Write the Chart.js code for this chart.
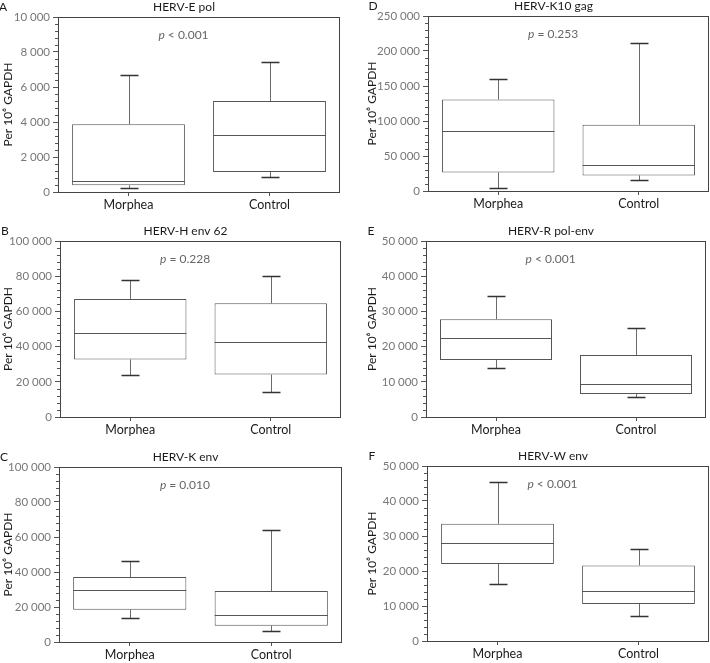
<!DOCTYPE html>
<html>
<head>
<meta charset="utf-8">
<script src="https://cdn.jsdelivr.net/npm/chart.js@4.4.1/dist/chart.umd.min.js"></script>
<style>
  body { margin: 0; background: #fff; width: 710px; height: 663px; overflow: hidden; position: relative; }
  canvas { position: absolute; }
</style>
</head>
<body>
<script>
const categories = ['Morphea', 'Control'];
const panelLetters = ['A', 'B', 'C', 'D', 'E', 'F'];
const panelTitles = ['HERV-E pol', 'HERV-H env 62', 'HERV-K env', 'HERV-K10 gag', 'HERV-R pol-env', 'HERV-W env'];
const pTexts = ['p < 0.001', 'p = 0.228', 'p = 0.010', 'p = 0.253', 'p < 0.001', 'p < 0.001'];
const yMax = [10000, 100000, 100000, 250000, 50000, 50000];
const yMajorStep = [2000, 20000, 20000, 50000, 10000, 10000];
const yMinorStep = [400, 4000, 4000, 10000, 2000, 2000];

// box plot values per panel, [Morphea, Control]
const whiskerLow = [[230, 840], [23800, 14100], [13700, 6100], [3800, 15200], [14000, 5700], [16200, 7200]];
const quartile1 = [[380, 1140], [32700, 24100], [18500, 9300], [26600, 22300], [16200, 6500], [22000, 10600]];
const medians = [[610, 3260], [47500, 42600], [29900, 15600], [86000, 37500], [22500, 9400], [28000, 14200]];
const quartile3 = [[3870, 5200], [67100, 64600], [37100, 29100], [130700, 94600], [27800, 17600], [33500, 21600]];
const whiskerHigh = [[6700, 7410], [77800, 80000], [46100, 64200], [159700, 212000], [34300, 25300], [45400, 26300]];

// layout: canvas frames [x, y, w, h] and plot areas [left, top, right, bottom] in page pixels
const frames = [[0, 0, 355, 222], [0, 222, 355, 225], [0, 447, 355, 216],
                [364, 0, 346, 222], [364, 222, 346, 225], [364, 447, 346, 216]];
const plotBoxes = [[58, 17, 340, 192], [60, 241, 341, 417], [59, 467, 342, 642],
                   [428, 16, 709, 191], [426, 241, 706, 417], [427, 466, 709, 641]];
const xAxisHeight = 22;

Chart.defaults.font.family = 'Lato, "Open Sans", sans-serif';

function fmt(v) {
  return String(v).replace(/\B(?=(\d{3})+(?!\d))/g, ' ');
}

const boxExtras = {
  id: 'boxExtras',
  beforeDatasetsDraw(chart, args, opts) {
    const i = opts.index, y = chart.scales.y, ctx = chart.ctx;
    ctx.save();
    ctx.lineWidth = 1;
    chart.getDatasetMeta(0).data.forEach((bar, j) => {
      const x = Math.round(bar.x) + 0.5;
      const half = Math.round(bar.width * 0.08);
      const lo = Math.round(y.getPixelForValue(whiskerLow[i][j])) + 0.5;
      const hi = Math.round(y.getPixelForValue(whiskerHigh[i][j])) + 0.5;
      const b1 = y.getPixelForValue(quartile1[i][j]);
      const b3 = y.getPixelForValue(quartile3[i][j]);
      ctx.strokeStyle = '#6a6a6a';
      ctx.beginPath();
      ctx.moveTo(x, b3); ctx.lineTo(x, hi);
      ctx.moveTo(x, b1); ctx.lineTo(x, lo);
      ctx.stroke();
      ctx.strokeStyle = '#333';
      ctx.lineWidth = 1.3;
      ctx.beginPath();
      ctx.moveTo(x - half, hi); ctx.lineTo(x + half, hi);
      ctx.moveTo(x - half, lo); ctx.lineTo(x + half, lo);
      ctx.stroke();
      ctx.lineWidth = 1;
    });
    ctx.restore();
  },
  afterDatasetsDraw(chart, args, opts) {
    const i = opts.index, y = chart.scales.y, ctx = chart.ctx;
    const a = chart.chartArea;
    ctx.save();
    ctx.lineWidth = 1;
    ctx.strokeStyle = '#555';
    chart.getDatasetMeta(0).data.forEach((bar, j) => {
      const m = Math.round(y.getPixelForValue(medians[i][j])) + 0.5;
      ctx.beginPath();
      ctx.moveTo(bar.x - bar.width / 2, m);
      ctx.lineTo(bar.x + bar.width / 2, m);
      ctx.stroke();
    });
    // frame round the plot area
    ctx.strokeStyle = '#444';
    ctx.strokeRect(Math.round(a.left) + 0.5, Math.round(a.top) + 0.5,
                   Math.round(a.right - a.left) - 1, Math.round(a.bottom - a.top));
    // minor ticks
    ctx.strokeStyle = '#555';
    ctx.beginPath();
    for (let v = 0; v <= yMax[i]; v += yMinorStep[i]) {
      if (v % yMajorStep[i] === 0) continue;
      const py = Math.round(y.getPixelForValue(v)) + 0.5;
      ctx.moveTo(a.left - 3, py); ctx.lineTo(a.left, py);
    }
    ctx.stroke();

    // title, panel letter, p value
    const cx = (a.left + a.right) / 2 - 15;
    ctx.fillStyle = '#1a1a1a';
    ctx.textBaseline = 'middle';
    ctx.textAlign = 'center';
    ctx.font = '12px Lato, "Open Sans", sans-serif';
    ctx.fillText(panelTitles[i], cx, a.top - 10);
    ctx.fillText(panelLetters[i], a.left - 55, a.top - 10);

    const p = pTexts[i];
    const rest = p.slice(1);
    ctx.fillStyle = '#666';
    ctx.font = 'italic 12px Lato, "Open Sans", sans-serif';
    const wp = ctx.measureText('p').width;
    ctx.font = '12px Lato, "Open Sans", sans-serif';
    const wr = ctx.measureText(rest).width;
    const px = a.left + 0.445 * (a.right - a.left) - (wp + wr) / 2;
    const py = a.top + 18;
    ctx.textAlign = 'left';
    ctx.font = 'italic 12px Lato, "Open Sans", sans-serif';
    ctx.fillText('p', px, py);
    ctx.font = '12px Lato, "Open Sans", sans-serif';
    ctx.fillText(rest, px + wp, py);
    ctx.restore();
  }
};

panelTitles.forEach((title, i) => {
  const [fx, fy, fw, fh] = frames[i];
  const [L, T, R, B] = plotBoxes[i];
  const canvas = document.createElement('canvas');
  canvas.width = fw;
  canvas.height = fh;
  canvas.style.left = fx + 'px';
  canvas.style.top = fy + 'px';
  canvas.style.width = fw + 'px';
  canvas.style.height = fh + 'px';
  document.body.appendChild(canvas);

  new Chart(canvas, {
    type: 'bar',
    data: {
      labels: categories,
      datasets: [{
        data: categories.map((c, j) => [quartile1[i][j], quartile3[i][j]]),
        backgroundColor: '#fff',
        borderColor: '#555',
        borderWidth: 1,
        borderSkipped: false,
        barPercentage: 0.8,
        categoryPercentage: 1
      }]
    },
    options: {
      responsive: false,
      animation: false,
      layout: { padding: { left: 0, top: T - fy, right: fx + fw - R, bottom: fy + fh - B - xAxisHeight } },
      plugins: {
        legend: { display: false },
        tooltip: { enabled: false },
        boxExtras: { index: i }
      },
      scales: {
        x: {
          grid: { drawOnChartArea: false, offset: false, tickLength: 4, color: '#555' },
          border: { display: false },
          ticks: { color: '#1a1a1a', padding: 1, maxRotation: 0, font: { size: 12.5 } },
          afterFit: s => { s.height = xAxisHeight; }
        },
        y: {
          min: 0,
          max: yMax[i],
          ticks: { stepSize: yMajorStep[i], color: '#777', padding: 3, font: { size: 11.5 }, callback: v => fmt(v) },
          grid: { drawOnChartArea: false, tickLength: 5, color: '#555' },
          border: { display: false },
          title: { display: true, text: 'Per 10⁶ GAPDH', color: '#1a1a1a', font: { size: 12 }, padding: { top: 1, bottom: 0 } },
          afterFit: s => { s.width = L - fx; }
        }
      }
    },
    plugins: [boxExtras]
  });
});
</script>
</body>
</html>
